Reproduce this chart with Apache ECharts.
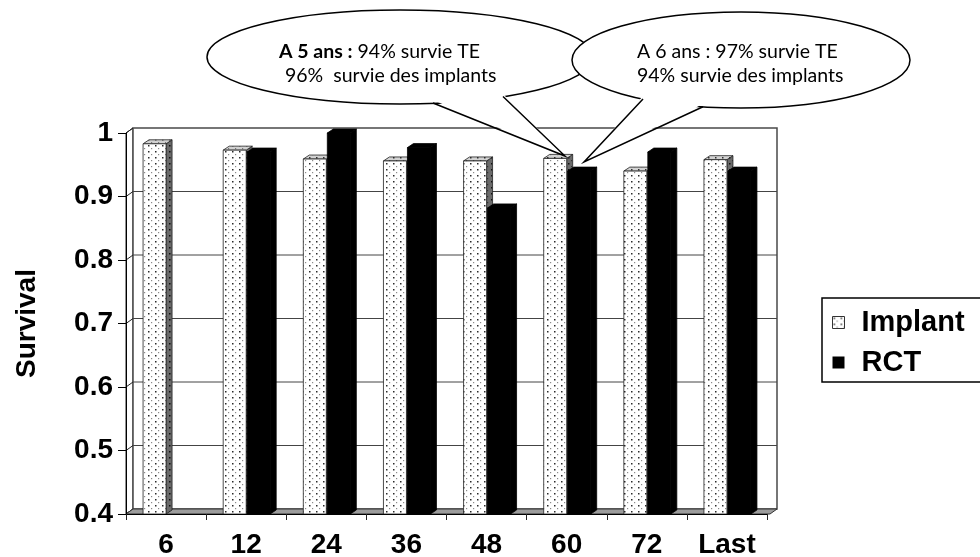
<!DOCTYPE html>
<html>
<head>
<meta charset="utf-8">
<script src="https://cdn.jsdelivr.net/npm/echarts@6/dist/echarts.min.js"></script>
<style>
  html, body { margin: 0; padding: 0; background: #ffffff; }
  #chart { width: 980px; height: 557px; }
</style>
</head>
<body>
<div id="chart"></div>
<script>
// Follow-up interval (months) and survival rates
const categories = ['6', '12', '24', '36', '48', '60', '72', 'Last'];
const implantSurvival = [0.983, 0.973, 0.959, 0.956, 0.956, 0.96, 0.94, 0.958];
const rctSurvival = [null, 0.97, 1.0, 0.977, 0.882, 0.94, 0.97, 0.94];
const yTicks = [0.4, 0.5, 0.6, 0.7, 0.8, 0.9, 1.0];
const yMin = 0.4, yMax = 1.0;
const legendNames = ['Implant', 'RCT'];

const AXIS_FONT = '"Liberation Sans", Arial, sans-serif';
const NOTE_FONT = 'Lato, "Open Sans", sans-serif';

// depth of the back wall and of the bar blocks
const WALL_DX = 7, WALL_DY = -5;
const BAR_DX = 6, BAR_DY = -4;

function dotPattern(bg, dark, light) {
  const c = document.createElement('canvas');
  c.width = 7; c.height = 6;
  const g = c.getContext('2d');
  g.fillStyle = bg; g.fillRect(0, 0, 7, 6);
  g.fillStyle = dark; g.fillRect(1, 1, 1.5, 1.5);
  g.fillStyle = light; g.fillRect(4, 4, 1.2, 1.2);
  return { image: c, repeat: 'repeat' };
}

const implantFills = {
  front: dotPattern('#ffffff', '#2a2a2a', '#8a8a8a'),
  top: dotPattern('#d2d2d2', '#333333', '#777777'),
  side: dotPattern('#6a6a6a', '#111111', '#333333')
};
const rctFills = { front: '#000000', top: '#000000', side: '#000000' };

function renderFrame(params, api) {
  const cs = params.coordSys;
  const L = cs.x, T = cs.y, R = cs.x + cs.width, B = cs.y + cs.height;
  const wallL = L + WALL_DX, wallR = R + WALL_DX + 3;
  const children = [];
  // left side wall
  children.push({
    type: 'polygon',
    shape: { points: [[L, T], [wallL, T + WALL_DY], [wallL, B + WALL_DY], [L, B]] },
    style: { fill: '#ffffff', stroke: '#222222', lineWidth: 1 }
  });
  // back wall
  children.push({
    type: 'rect',
    shape: { x: wallL, y: T + WALL_DY, width: wallR - wallL, height: cs.height },
    style: { fill: '#ffffff', stroke: '#4a4a4a', lineWidth: 1.5 }
  });
  yTicks.forEach(function (v) {
    const y = api.coord([0, v])[1];
    children.push({
      type: 'line',
      shape: { x1: L, y1: y, x2: wallL, y2: y + WALL_DY },
      style: { stroke: '#222222', lineWidth: 1 }
    });
    if (v > yMin + 1e-9 && v < yMax - 1e-9) {
      children.push({
        type: 'line',
        shape: { x1: wallL, y1: y + WALL_DY, x2: wallR, y2: y + WALL_DY },
        style: { stroke: '#444444', lineWidth: 1 }
      });
    }
  });
  // floor
  children.push({
    type: 'polygon',
    shape: { points: [[L, B], [wallL, B + WALL_DY], [wallR, B + WALL_DY], [wallR - WALL_DX, B]] },
    style: { fill: '#9c9c9c', stroke: '#333333', lineWidth: 1 }
  });
  return { type: 'group', children: children };
}

function barRenderer(frontLeft, frontWidth, fills, stroke) {
  return function (params, api) {
    const v = api.value(1);
    if (v == null || isNaN(v)) return null;
    const top = api.coord([api.value(0), v]);
    const base = api.coord([api.value(0), yMin]);
    const x0 = top[0] + frontLeft, x1 = x0 + frontWidth;
    const yT = top[1], yB = base[1];
    return {
      type: 'group',
      children: [
        {
          type: 'polygon',
          shape: { points: [[x1, yT], [x1 + BAR_DX, yT + BAR_DY], [x1 + BAR_DX, yB + BAR_DY], [x1, yB]] },
          style: { fill: fills.side, stroke: stroke, lineWidth: 0.8 }
        },
        {
          type: 'polygon',
          shape: { points: [[x0, yT], [x0 + BAR_DX, yT + BAR_DY], [x1 + BAR_DX, yT + BAR_DY], [x1, yT]] },
          style: { fill: fills.top, stroke: stroke, lineWidth: 0.8 }
        },
        {
          type: 'rect',
          shape: { x: x0, y: yT, width: frontWidth, height: yB - yT },
          style: { fill: fills.front, stroke: stroke, lineWidth: 0.8 }
        }
      ]
    };
  };
}

const chart = echarts.init(document.getElementById('chart'), null, { renderer: 'canvas' });

chart.setOption({
  animation: false,
  backgroundColor: '#ffffff',
  grid: { left: 126, right: 213, top: 133, bottom: 43, containLabel: false, outerBoundsMode: 'none' },
  xAxis: {
    type: 'category',
    data: categories,
    boundaryGap: true,
    z: 5,
    axisLine: { show: true, lineStyle: { color: '#000000', width: 1 } },
    axisTick: { show: true, alignWithLabel: false, length: 6, lineStyle: { color: '#222222' } },
    axisLabel: { margin: 17, fontSize: 28, fontWeight: 'bold', fontFamily: AXIS_FONT, color: '#000000' },
    splitLine: { show: false }
  },
  yAxis: {
    type: 'value',
    min: yMin,
    max: yMax,
    interval: 0.1,
    z: 5,
    name: 'Survival',
    nameLocation: 'middle',
    nameRotate: 90,
    nameGap: 85,
    nameTextStyle: { fontSize: 28, fontWeight: 'bold', fontFamily: AXIS_FONT, color: '#000000' },
    axisLine: { show: true, lineStyle: { color: '#000000', width: 1 } },
    axisTick: { show: true, length: 8, lineStyle: { color: '#000000' } },
    axisLabel: { margin: 13, fontSize: 28, fontWeight: 'bold', fontFamily: AXIS_FONT, color: '#000000' },
    splitLine: { show: false }
  },
  legend: {
    orient: 'vertical',
    left: 832,
    top: 308,
    padding: 0,
    itemWidth: 12,
    itemHeight: 12,
    itemGap: 11,
    selectedMode: false,
    textStyle: { fontSize: 29, fontWeight: 'bold', fontFamily: AXIS_FONT, color: '#000000', padding: [0, 0, 0, 12] },
    data: [
      { name: legendNames[0], icon: 'rect', itemStyle: { color: implantFills.front, borderColor: '#333333', borderWidth: 1 } },
      { name: legendNames[1], icon: 'rect', itemStyle: { color: '#000000', borderWidth: 0 } }
    ]
  },
  series: [
    {
      name: 'frame',
      type: 'custom',
      z: 1,
      silent: true,
      renderItem: renderFrame,
      data: [[0, yMin]]
    },
    {
      name: legendNames[0],
      type: 'custom',
      z: 2,
      itemStyle: { color: '#ffffff' },
      renderItem: barRenderer(-23, 23, implantFills, '#222222'),
      encode: { x: 0, y: 1 },
      data: implantSurvival.map(function (v, i) { return [i, v]; })
    },
    {
      name: legendNames[1],
      type: 'custom',
      z: 3,
      itemStyle: { color: '#000000' },
      renderItem: barRenderer(1, 23, rctFills, '#000000'),
      encode: { x: 0, y: 1 },
      data: rctSurvival.map(function (v, i) { return [i, v]; })
    }
  ],
  graphic: [
    // legend frame
    { type: 'rect', z: 90, shape: { x: 822, y: 298, width: 200, height: 84 }, style: { fill: 'none', stroke: '#000000', lineWidth: 1.5 } },
    // call-out at 5 years
    { type: 'ellipse', z: 100, shape: { cx: 400, cy: 57, rx: 193, ry: 47 }, style: { fill: '#ffffff', stroke: '#000000', lineWidth: 1.5 } },
    { type: 'polygon', z: 101, shape: { points: [[433, 100], [565, 156], [503, 94]] }, style: { fill: '#ffffff' } },
    { type: 'polyline', z: 102, shape: { points: [[433, 103], [565, 156], [503, 96.5]] }, style: { stroke: '#000000', lineWidth: 1.5, fill: null } },
    // call-out at 6 years
    { type: 'ellipse', z: 103, shape: { cx: 741, cy: 60, rx: 169, ry: 48 }, style: { fill: '#ffffff', stroke: '#000000', lineWidth: 1.5 } },
    { type: 'polygon', z: 104, shape: { points: [[643, 96], [584, 162], [703, 104]] }, style: { fill: '#ffffff' } },
    { type: 'polyline', z: 105, shape: { points: [[643, 99], [584, 162], [703, 106.8]] }, style: { stroke: '#000000', lineWidth: 1.5, fill: null } },
    {
      type: 'text', z: 110,
      style: {
        x: 279, y: 52, text: '{b|A 5 ans :} 94% survie TE', verticalAlign: 'middle',
        fontSize: 19.5, fontFamily: NOTE_FONT, fill: '#000000',
        rich: { b: { fontSize: 19.5, fontFamily: NOTE_FONT, fontWeight: 'bold', fill: '#000000' } }
      }
    },
    {
      type: 'text', z: 110,
      style: { x: 285, y: 76, text: '96%  survie des implants', verticalAlign: 'middle', fontSize: 19.5, fontFamily: NOTE_FONT, fill: '#000000' }
    },
    {
      type: 'text', z: 110,
      style: { x: 637, y: 52, text: 'A 6 ans : 97% survie TE', verticalAlign: 'middle', fontSize: 19.5, fontFamily: NOTE_FONT, fill: '#000000' }
    },
    {
      type: 'text', z: 110,
      style: { x: 637, y: 76, text: '94% survie des implants', verticalAlign: 'middle', fontSize: 19.5, fontFamily: NOTE_FONT, fill: '#000000' }
    }
  ]
});
</script>
</body>
</html>
